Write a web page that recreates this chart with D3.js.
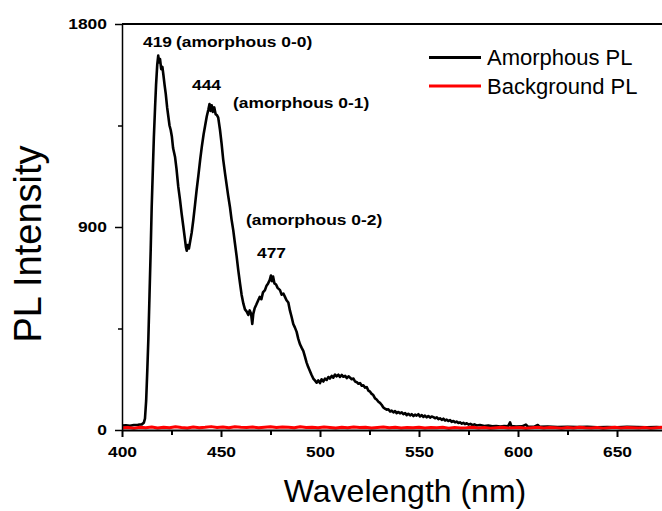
<!DOCTYPE html>
<html lang="en">
<head>
  <meta charset="UTF-8"/>
  <title>PL Intensity vs Wavelength</title>
  <script src="https://d3js.org/d3.v7.min.js"></script>
  <style>
    body { margin: 0; background: #fff; }
    svg { display: block; }
    text { font-family: 'Liberation Sans', Arial, Helvetica, sans-serif; fill: #000; }
    .axis path, .axis line { stroke: #000; }
    .axis text { font-size: 15px; font-weight: bold; }
    .note { font-size: 15px; font-weight: bold; }
    .legend { font-size: 22px; }
    .title { font-size: 32px; }
  </style>
</head>
<body>
<svg width="662" height="511"></svg>
<script>
// values (nm, counts)
const wavelength = [400,402,404,406,408,410,411,411.6,412.2,412.8,413.3,413.9,414.5,415,415.6,416.1,416.7,417.2,417.8,418.3,418.7,419.2,419.8,420.4,420.9,421.5,422.1,422.8,423.4,424,424.6,425.2,425.8,426.8,427.5,428.4,429.3,430.1,431,431.8,432.3,432.7,433.2,433.8,434.5,435.2,436,436.9,437.7,438.6,439.5,440.3,441.2,442,442.8,443.6,444.2,444.7,445.3,445.9,446.6,447.3,448,448.6,449.5,450.3,451.1,452,452.8,453.6,454.5,455.3,456.2,457,457.9,458.7,459.6,460.4,461.3,462.1,463,463.8,464.5,465.2,465.8,466.3,467,467.8,468.8,469.6,470.4,471.2,472.2,473,473.8,474.6,475.2,475.7,476.3,477,477.8,478.6,479.8,480.6,481.5,482.3,483.1,484,484.8,485.7,486.5,487.3,488.2,489,489.9,490.7,491.6,492.4,493.2,494,494.9,495.7,496.6,497.4,498.3,499.1,500,500.8,501.7,502.5,503.4,504.2,505,505.9,506.7,507.6,508.4,509.3,510.1,511,511.8,512.7,513.5,514.4,515.2,516,516.9,517.7,518.6,519.4,520.2,521.1,521.9,522.8,523.6,524.4,525.3,526.1,526.9,527.8,528.6,529.5,530.3,531.1,532,532.8,533.7,534.5,535.4,536.2,537.1,537.9,538.7,539.6,540.4,541.3,542.1,543,543.8,544.6,545.5,546.3,547.2,548,548.8,549.7,550.5,551.4,552.2,553,553.9,554.7,555.6,556.4,557.3,558.1,559,559.8,560.6,561.5,562.3,563.2,564,564.8,565.7,566.5,567.4,568.2,569,569.9,570.7,571.6,572.4,573.2,574.1,575,576,577,578,579,580.8,583,585,587,589,591,593,595,596,596.6,599,602,604,605,608,610,611,615,620,625,630,635,640,645,650,655,660,665,670,675];
const amorphous = [20,21,19,22,23,25,32,50,130,270,400,600,800,990,1160,1300,1430,1530,1620,1660,1630,1645,1600,1610,1575,1530,1490,1430,1390,1350,1330,1300,1250,1210,1160,1080,1020,960,900,845,810,795,820,805,840,875,930,1000,1065,1130,1200,1255,1310,1350,1390,1420,1445,1415,1440,1410,1430,1400,1395,1385,1330,1270,1200,1140,1090,1040,990,935,885,830,770,710,650,600,560,535,525,510,530,515,470,515,540,555,575,590,580,610,620,640,650,665,685,660,680,650,645,630,620,600,605,590,575,565,530,500,470,455,435,405,380,365,350,325,300,280,262,245,228,220,210,220,208,225,215,228,222,235,228,240,232,246,238,245,235,244,236,240,230,238,232,225,228,215,212,205,208,196,198,188,190,175,170,160,155,140,135,125,120,112,100,95,90,92,82,86,78,84,75,80,74,78,70,75,66,72,65,70,62,68,64,70,60,66,58,64,56,62,55,60,57,52,56,48,52,45,50,42,46,40,44,36,40,34,37,31,34,28,32,26,30,24,27,22,25,20,22,18,20,16,18,15,17,16,34,18,15,16,24,15,14,22,14,15,13,14,13,14,12,13,12,14,13,12,13,12];

const bgWavelength = [400,403,406,409,412,415,418,421,424,427,430,433,436,439,442,445,448,451,454,457,460,463,466,469,472,475,478,481,484,487,490,493,496,499,502,505,508,511,514,517,520,523,526,529,532,535,538,541,544,547,550,553,556,559,562,565,568,571,574,577,580,583,586,589,592,595,598,601,604,607,610,613,616,619,622,625,628,631,634,637,640,643,646,649,652,655,658,661,664,667,670,673,676];
const background = [9,11,8,12,10,13,9,12,10,14,11,9,13,10,12,15,11,13,10,14,12,11,13,10,12,14,11,13,12,10,14,11,12,10,13,11,9,12,10,13,11,12,9,11,13,10,12,9,11,10,12,9,11,10,12,8,11,9,10,12,9,11,8,10,12,9,10,11,8,10,12,9,11,10,8,11,9,12,10,9,11,8,10,12,9,11,10,9,11,8,10,12,9];

const xMajor = [400, 450, 500, 550, 600, 650];
const xMinor = [425, 475, 525, 575, 625, 675];
const yMajor = [0, 900, 1800];
const yMinor = [450, 1350];

const seriesNames = ['Amorphous PL', 'Background PL'];
const seriesColors = ['#000000', '#ff0000'];

const peakLabels = ['419', '444', '477'];
const bandLabels = ['(amorphous 0-0)', '(amorphous 0-1)', '(amorphous 0-2)'];

const svg = d3.select('svg');
const plotLeft = 122, plotTop = 24, plotBottom = 430, plotRight = 662;
const SX = 1.16; // bold text in the figure is a bit wider than Arial

const x = d3.scaleLinear().domain([400, 700]).range([plotLeft, plotLeft + 300 * 1.98]);
const y = d3.scaleLinear().domain([0, 1800]).range([plotBottom, plotTop]);

svg.append('clipPath').attr('id', 'plot')
  .append('rect').attr('x', plotLeft).attr('y', 0)
  .attr('width', plotRight - plotLeft).attr('height', plotBottom + 2);

// curves
const line = d3.line().x(d => x(d[0])).y(d => y(d[1]));
const plot = svg.append('g').attr('clip-path', 'url(#plot)');

plot.append('path')
  .datum(wavelength.map((w, i) => [w, amorphous[i]]))
  .attr('d', line)
  .attr('fill', 'none')
  .attr('stroke', seriesColors[0])
  .attr('stroke-width', 2.6)
  .attr('stroke-linejoin', 'round');

plot.append('path')
  .datum(bgWavelength.map((w, i) => [w, background[i]]))
  .attr('d', line)
  .attr('fill', 'none')
  .attr('stroke', seriesColors[1])
  .attr('stroke-width', 3)
  .attr('stroke-linejoin', 'round');

// axes
const xAxis = svg.append('g').attr('class', 'axis')
  .attr('transform', `translate(0, ${plotBottom})`)
  .call(d3.axisBottom(x).tickValues(xMajor).tickFormat(d3.format('d')).tickSize(7).tickPadding(9).tickSizeOuter(0));
xAxis.select('.domain').attr('stroke-width', 2);
xAxis.selectAll('.tick line').attr('stroke-width', 2);
xAxis.selectAll('.tick text').attr('transform', `scale(${SX},1)`);

svg.append('g').attr('class', 'axis')
  .attr('transform', `translate(0, ${plotBottom})`)
  .call(d3.axisBottom(x).tickValues(xMinor).tickSize(5).tickFormat('').tickSizeOuter(0))
  .call(g => g.select('.domain').remove())
  .selectAll('.tick line').attr('stroke-width', 2);

const yAxis = svg.append('g').attr('class', 'axis')
  .attr('transform', `translate(${plotLeft}, 0)`)
  .call(d3.axisLeft(y).tickValues(yMajor).tickFormat(d3.format('d')).tickSize(7).tickPadding(6).tickSizeOuter(0));
yAxis.select('.domain').attr('stroke-width', 1.5);
yAxis.selectAll('.tick line').attr('stroke-width', 1.5);
yAxis.selectAll('.tick text').attr('transform', `scale(${SX},1)`);

svg.append('g').attr('class', 'axis')
  .attr('transform', `translate(${plotLeft}, 0)`)
  .call(d3.axisLeft(y).tickValues(yMinor).tickSize(4).tickFormat('').tickSizeOuter(0))
  .call(g => g.select('.domain').remove())
  .selectAll('.tick line').attr('stroke-width', 1.5);

// top frame
svg.append('line')
  .attr('x1', plotLeft).attr('x2', plotRight)
  .attr('y1', y(1800)).attr('y2', y(1800))
  .attr('stroke', '#000').attr('stroke-width', 2);

// peak annotations
function note(txt, px, py) {
  svg.append('text').attr('class', 'note')
    .attr('transform', `translate(${px}, ${py}) scale(${SX},1)`)
    .text(txt);
}
note(peakLabels[0], 143, 47);
note(bandLabels[0], 176, 47);
note(peakLabels[1], 192, 90);
note(bandLabels[1], 233, 108);
note(bandLabels[2], 246, 225);
note(peakLabels[2], 257, 258);

// legend
seriesNames.forEach((name, i) => {
  const ly = 57.5 + i * 28.5;
  svg.append('line')
    .attr('x1', 429).attr('x2', 481).attr('y1', ly).attr('y2', ly)
    .attr('stroke', seriesColors[i]).attr('stroke-width', 3);
  svg.append('text').attr('class', 'legend')
    .attr('x', 487).attr('y', ly + 7.5)
    .text(name);
});

// axis titles
svg.append('text').attr('class', 'title')
  .attr('x', 405).attr('y', 502)
  .attr('text-anchor', 'middle')
  .text('Wavelength (nm)');

svg.append('text').attr('class', 'title')
  .attr('transform', 'translate(41, 244) rotate(-90)')
  .attr('text-anchor', 'middle')
  .style('font-size', '38px')
  .text('PL Intensity');
</script>
</body>
</html>
